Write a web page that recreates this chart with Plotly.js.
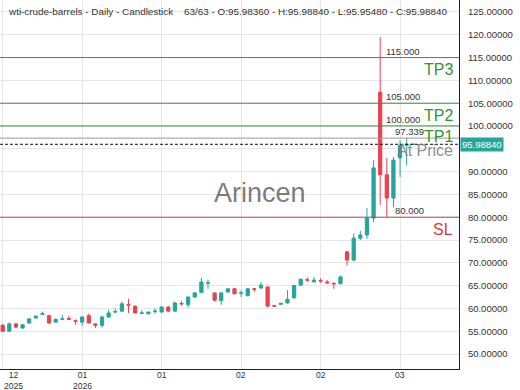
<!DOCTYPE html>
<html>
<head>
<meta charset="utf-8">
<script src="https://cdn.plot.ly/plotly-3.0.1.min.js"></script>
<style>html,body{margin:0;padding:0;background:#fff;}#chart{width:520px;height:390px;}</style>
</head>
<body>
<div id="chart"></div>
<script>
// ---- data ----
var opens  = [56.3,55.0,56.6,55.7,56.8,57.9,58.7,58.4,57.0,57.6,57.8,57.3,57.0,58.4,56.6,56.3,58.1,59.2,59.4,60.8,60.5,58.9,58.8,59.3,59.2,60.3,59.4,61.1,60.8,62.5,63.5,65.5,63.4,61.7,63.6,64.3,63.3,62.8,64.3,64.5,64.7,60.6,60.9,61.2,62.3,65.1,66.3,65.8,66.1,65.8,65.5,65.4,72.4,70.6,75.4,76.1,79.8,107.4,89.3,84.2,93.0,95.8,95.9836];
var highs  = [56.6,56.9,56.8,56.6,57.9,58.5,59.3,58.6,57.8,58.6,58.4,57.6,58.4,58.9,56.8,58.4,59.7,60.0,61.5,62.1,60.6,59.6,59.3,60.0,60.5,60.5,61.5,61.6,62.6,63.5,66.7,66.3,63.5,63.5,64.4,64.5,64.0,64.4,64.5,65.8,64.8,60.8,61.2,64.0,65.2,66.5,66.8,66.9,66.6,66.2,65.7,67.2,72.6,76.5,77.0,82.0,92.5,119.5,93.0,93.2,96.9,97.4,95.9884];
var lows   = [54.8,54.9,55.7,55.5,56.6,57.8,58.6,56.6,56.9,57.5,57.4,56.4,56.2,56.7,55.7,55.8,57.9,58.9,59.3,59.0,58.9,58.9,58.7,58.8,59.1,59.3,59.3,60.6,60.2,62.3,63.4,64.3,61.5,60.8,63.5,63.1,62.5,62.6,63.6,64.2,60.2,60.3,60.8,61.0,62.2,65.0,65.8,65.7,65.6,65.4,64.3,65.3,69.4,70.3,75.0,75.2,78.9,82.7,80.0,82.2,88.8,91.4,95.9548];
var closes = [55.0,56.6,55.9,56.4,57.7,58.3,58.8,56.8,57.6,57.7,57.6,57.2,58.1,56.8,56.3,58.1,59.0,59.3,61.0,60.7,59.0,59.0,59.2,59.4,60.3,59.4,61.2,61.0,62.5,63.4,65.8,65.6,61.8,63.4,64.3,63.2,63.4,64.3,64.2,65.1,60.5,60.5,61.1,62.0,65.0,66.4,66.2,66.2,66.0,65.6,65.4,66.9,70.6,75.4,76.1,79.8,90.8,89.3,84.2,92.5,95.8,95.98,95.9884];

var tickBars   = [1, 13, 25, 37, 49, 61];
var tickLabels = ['12<br>2025', '01<br>2026', '01', '02', '02', '03'];
var yTicks     = [45,50,55,60,65,70,75,80,85,90,95,100,105,110,115,120,125];

var tpLevels   = [115, 105, 100];
var tpNames    = ['TP3', 'TP2', 'TP1'];
var entryLevel = 97.339;
var slLevel    = 80;
var lastPrice  = 95.9884;
var titleText  = 'wti-crude-barrels - Daily - Candlestick    63/63 - O:95.98360 - H:95.98840 - L:95.95480 - C:95.98840';

// ---- build ----
var xs = opens.map(function(_, i){ return i + 1; });
var GREEN = '#26a69a', RED = '#e8434f';
var FONT = 'Liberation Sans, Arial, sans-serif';

var trace = {
  type: 'candlestick', x: xs, open: opens, high: highs, low: lows, close: closes,
  increasing: {line: {color: GREEN, width: 1}, fillcolor: GREEN},
  decreasing: {line: {color: RED, width: 1}, fillcolor: RED},
  whiskerwidth: 0, hoverinfo: 'none', showlegend: false
};

var shapes = [];
function hline(y, color, dash) {
  shapes.push({type: 'line', xref: 'paper', x0: 0, x1: 1, yref: 'y', y0: y, y1: y,
    line: {color: color, width: 1, dash: dash || 'solid'}});
}
tpLevels.forEach(function(v){ hline(v, '#3f8a3f'); });
hline(entryLevel, '#9a9a9a');
hline(slLevel, '#b5474b');
hline(lastPrice, '#111111', '3px,2px');

var ann = [];
var small = {family: FONT, size: 9.5, color: '#333'};
ann.push({xref: 'paper', yref: 'paper', x: 0, y: 1, xanchor: 'left', yanchor: 'top',
  xshift: 6, yshift: -4, text: titleText, showarrow: false,
  font: {family: FONT, size: 9.9, color: '#333'}});
// level numbers
tpLevels.forEach(function(v){
  ann.push({xref: 'paper', yref: 'y', x: 385/459, y: v, xanchor: 'left', yanchor: 'bottom',
    text: v.toFixed(3), showarrow: false, font: small, borderpad: 0});
});
ann.push({xref: 'paper', yref: 'y', x: 394/459, y: entryLevel, xanchor: 'left', yanchor: 'bottom',
  text: entryLevel.toFixed(3), showarrow: false, font: small, borderpad: 0});
ann.push({xref: 'paper', yref: 'y', x: 394/459, y: slLevel, xanchor: 'left', yanchor: 'bottom',
  text: slLevel.toFixed(3), showarrow: false, font: small, borderpad: 0});
// big labels
var bigY = [112.3, 102.2, 97.6];
tpNames.forEach(function(n, i){
  ann.push({xref: 'paper', yref: 'y', x: 455/459, y: bigY[i], xanchor: 'right', yanchor: 'middle',
    text: n, showarrow: false, font: {family: FONT, size: 16, color: '#2f962f'}});
});
ann.push({xref: 'paper', yref: 'y', x: 455/459, y: 94.7, xanchor: 'right', yanchor: 'middle',
  text: 'At Price', showarrow: false, font: {family: FONT, size: 16, color: 'rgba(120,120,120,0.85)'}});
ann.push({xref: 'paper', yref: 'y', x: 455/459, y: 77.2, xanchor: 'right', yanchor: 'middle',
  text: 'SL', showarrow: false, font: {family: FONT, size: 16, color: '#d9363e'}});
// watermark
ann.push({xref: 'paper', yref: 'y', x: 260/459, y: 85.3, xanchor: 'center', yanchor: 'middle',
  text: 'Arincen', showarrow: false, font: {family: FONT, size: 27, color: 'rgba(100,100,100,0.85)'}});
// price box
ann.push({xref: 'paper', yref: 'y', x: 1, y: lastPrice, xanchor: 'left', yanchor: 'middle', xshift: 1,
  text: lastPrice.toFixed(5), showarrow: false, bgcolor: GREEN, borderpad: 1,
  font: {family: FONT, size: 9.5, color: '#ffffff'}});
// x labels, first one shifted so it is not cut off at the left edge
tickBars.forEach(function(b, i){
  ann.push({xref: 'x', yref: 'paper', x: b, y: 0, xanchor: 'center', yanchor: 'top',
    xshift: i === 0 ? 11 : 0, yshift: 0, text: tickLabels[i], showarrow: false,
    font: {family: FONT, size: 8.6, color: '#333'}, borderpad: 0});
});

var yText = yTicks.map(function(v){ return v === 95 ? '' : v.toFixed(5); });

var layout = {
  width: 520, height: 390,
  margin: {l: 0, r: 61, t: 0, b: 21, pad: 0},
  paper_bgcolor: '#ffffff', plot_bgcolor: '#ffffff',
  font: {family: FONT, size: 9.5, color: '#333'},
  xaxis: {type: 'linear', range: [0.593, 69.9], tickmode: 'array', tickvals: tickBars,
    ticktext: tickBars.map(function(){ return ''; }), showgrid: true, gridcolor: '#e6e6e6',
    showline: true, linecolor: '#222', linewidth: 1, ticks: '', zeroline: false,
    rangeslider: {visible: false}, tickfont: small, fixedrange: true},
  yaxis: {side: 'right', range: [46.71, 127.63], tickmode: 'array', tickvals: yTicks,
    ticktext: yText, showgrid: true, gridcolor: '#e6e6e6', showline: true, linecolor: '#222',
    linewidth: 1, ticks: '', zeroline: false, ticklabelstandoff: 6, tickfont: small, fixedrange: true},
  shapes: shapes, annotations: ann, showlegend: false
};

Plotly.newPlot('chart', [trace], layout, {staticPlot: true, displayModeBar: false});
</script>
</body>
</html>
